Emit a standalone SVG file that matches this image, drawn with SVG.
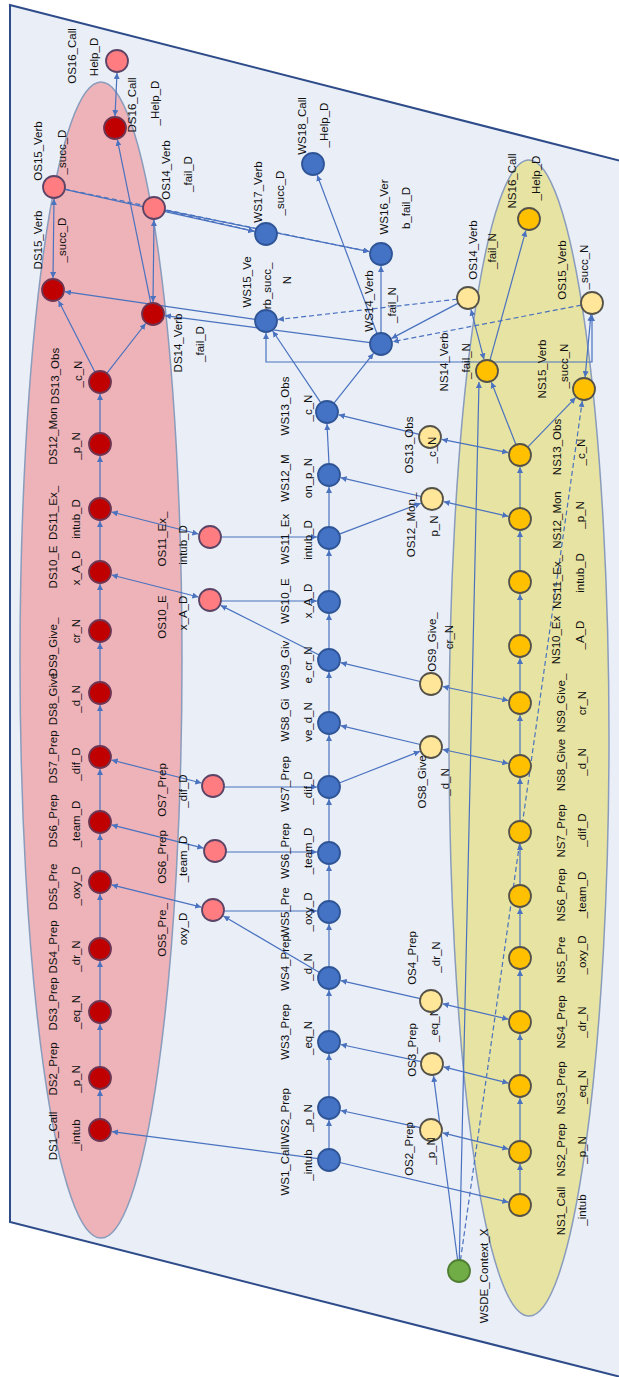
<svg xmlns="http://www.w3.org/2000/svg" width="619" height="1377" viewBox="0 0 619 1377">
<defs>
<marker id="a" viewBox="0 0 10 10" refX="10" refY="5" markerWidth="6" markerHeight="6" markerUnits="userSpaceOnUse" orient="auto-start-reverse"><path d="M0,0 L10,5 L0,10 z" fill="#4A72BF"/></marker>
<style>
.t{font-family:"Liberation Sans",Arial,sans-serif;font-size:11.5px;fill:#111;text-anchor:middle;dominant-baseline:central}
.ds{fill:#C00000;stroke:#6E3552;stroke-width:1.8}
.od{fill:#FF7C80;stroke:#5C4466;stroke-width:1.8}
.ws{fill:#4472C4;stroke:#2F5597;stroke-width:1.8}
.ns{fill:#FFC000;stroke:#55524A;stroke-width:1.8}
.on{fill:#FFE699;stroke:#55524A;stroke-width:1.8}
.gr{fill:#70AD47;stroke:#507E32;stroke-width:1.8}
.e{marker-end:url(#a)}
.b{marker-start:url(#a);marker-end:url(#a)}
.d{stroke-dasharray:5 3}
</style>
</defs>
<rect width="619" height="1377" fill="#FFFFFF"/>
<g id="background">
<polygon points="10,5 680,176 680,1392 10,1222" fill="#E9EEF7" stroke="#2E4B8A" stroke-width="2"/>
<ellipse cx="101" cy="660" rx="81" ry="578" fill="#EDB3B8" stroke="#8A9CBC" stroke-width="1.5"/>
<ellipse cx="529" cy="738" rx="80" ry="578" fill="#E7E3A2" stroke="#8A9CBC" stroke-width="1.5"/>
</g>
<g id="connectors" fill="none" stroke="#4A72BF" stroke-width="1.2">
<path class="e" d="M100,1119 V1090"/>
<path class="e" d="M100,1067 V1024"/>
<path class="e" d="M100,1001 V961"/>
<path class="e" d="M100,938 V894"/>
<path class="e" d="M100,871 V834"/>
<path class="e" d="M100,811 V769"/>
<path class="e" d="M100,746 V705"/>
<path class="e" d="M100,682 V643"/>
<path class="e" d="M100,620 V584"/>
<path class="e" d="M100,561 V521"/>
<path class="e" d="M100,498 V456"/>
<path class="e" d="M100,433 V394"/>
<path class="e" d="M106.8,373.3 L145.6,323.5"/>
<path class="e" d="M95,372.2 L58.5,300.7"/>
<path class="b" d="M54,199 L53,278"/>
<path class="b" d="M154,220 L153,302"/>
<path class="b" d="M117,73 L115,116"/>
<path class="e" d="M150.8,303.2 L117.4,139.8"/>
<path class="e" d="M255.1,319.4 L64.9,291.7"/>
<path class="e" d="M370.1,342.6 L164.9,315.6"/>
<path class="e" d="M64.7,189.4 L254.3,231.4"/>
<path class="e d" d="M64.8,189.2 L369.2,251.6"/>
<path class="e" d="M164.8,210.2 L369.2,251.6"/>
<path class="e d" d="M164.7,210.5 L254.3,231.3"/>
<path class="e" d="M377.1,333.7 L317.2,175.2"/>
<path class="e" d="M381,333 V266"/>
<path class="e" d="M333.8,403.4 L373.5,353.4"/>
<path class="e" d="M320.9,402.9 L272.7,331"/>
<path class="b" d="M266,333 V362 H592 V315"/>
<path class="e" d="M458.3,303.1 L391.6,338.4"/>
<path class="e d" d="M457.1,299.2 L277.9,319.6"/>
<path class="e d" d="M581.2,305.1 L392.8,341.7"/>
<path class="b" d="M471,309.6 L484,359.4"/>
<path class="b" d="M590.9,314.9 L585.1,377.1"/>
<path class="e" d="M516,444.8 L491.4,382.2"/>
<path class="e" d="M527.7,447.1 L575.6,397.6"/>
<path class="b" d="M508.2,452.6 L441.8,439.4"/>
<path class="e" d="M419.3,434.4 L338.7,414.8"/>
<path class="e" d="M489.9,360.4 L525.8,230.6"/>
<path class="e" d="M520,1194 V1164"/>
<path class="e" d="M520,1141 V1098"/>
<path class="e" d="M520,1075 V1034"/>
<path class="e" d="M520,1011 V970"/>
<path class="e" d="M520,947 V908"/>
<path class="e" d="M520,885 V844"/>
<path class="e" d="M520,821 V778"/>
<path class="e" d="M520,755 V715"/>
<path class="e" d="M520,692 V658"/>
<path class="e" d="M520,635 V594"/>
<path class="e" d="M520,571 V531"/>
<path class="e" d="M520,508 V467"/>
<path class="e" d="M329,1149 V1120"/>
<path class="e" d="M329,1097 V1054"/>
<path class="e" d="M329,1031 V990"/>
<path class="e" d="M329,967 V924"/>
<path class="e" d="M329,901 V865"/>
<path class="e" d="M329,842 V799"/>
<path class="e" d="M329,776 V735"/>
<path class="e" d="M329,712 V672"/>
<path class="e" d="M329,649 V614"/>
<path class="e" d="M329,591 V550"/>
<path class="e" d="M329,527 V487"/>
<path class="e" d="M329,464 L327,424"/>
<path class="e" d="M318.1,1158.6 L111.9,1131.6"/>
<path class="e" d="M339.7,1162.5 L508.3,1202.2"/>
<path class="b" d="M508.4,1149.1 L442.7,1132.9"/>
<path class="e" d="M420.2,1127.7 L340.7,1110.5"/>
<path class="b" d="M508.4,1083.1 L443.6,1066.9"/>
<path class="e" d="M421.2,1061.7 L340.7,1044.5"/>
<path class="b" d="M508.3,1019.2 L442.7,1003.8"/>
<path class="e" d="M420.3,998.6 L340.7,980.6"/>
<path class="e" d="M319.5,972.4 L223.4,916.1"/>
<path class="b" d="M201.3,907.1 L111.7,884.9"/>
<path class="e" d="M224,911 H317"/>
<path class="b" d="M203.4,848.1 L111.6,824.9"/>
<path class="e" d="M226,852 H317"/>
<path class="b" d="M201.4,783 L111.6,760"/>
<path class="e" d="M224,787 H317"/>
<path class="e" d="M339.2,783 L419.8,751.4"/>
<path class="e" d="M420.3,744.5 L340.7,725.7"/>
<path class="b" d="M508.3,763.5 L442.7,749.5"/>
<path class="b" d="M508.3,700.5 L442.7,686.5"/>
<path class="e" d="M420.3,681.5 L340.7,662.7"/>
<path class="e" d="M319.2,655 L220.7,605.4"/>
<path class="b" d="M198.4,597 L111.6,575"/>
<path class="e" d="M221,601 H317"/>
<path class="b" d="M198.4,534 L111.6,512"/>
<path class="e" d="M221,537 H317"/>
<path class="e" d="M339.3,534.1 L420.8,503.2"/>
<path class="e" d="M421.3,496.5 L340.7,477.7"/>
<path class="b" d="M508.3,516.3 L443.7,501.7"/>
<path class="e" d="M457.6,1260 L433.5,1075.9"/>
<path class="e" d="M459.3,1260 L479,382"/>
<path class="e d" d="M460.5,1260 L582.3,400.9"/>
</g>
<g id="DS1"><circle class="ds" cx="100" cy="1130" r="11"/><text class="t" transform="translate(53,1136) rotate(-90)">DS1_Call</text><text class="t" transform="translate(76,1135) rotate(-90)">_intub</text></g>
<g id="DS2"><circle class="ds" cx="100" cy="1078" r="11"/><text class="t" transform="translate(53,1069) rotate(-90)">DS2_Prep</text><text class="t" transform="translate(76,1079) rotate(-90)">_p_N</text></g>
<g id="DS3"><circle class="ds" cx="100" cy="1012" r="11"/><text class="t" transform="translate(53,1004) rotate(-90)">DS3_Prep</text><text class="t" transform="translate(76,1012) rotate(-90)">_eq_N</text></g>
<g id="DS4"><circle class="ds" cx="100" cy="949" r="11"/><text class="t" transform="translate(53,947) rotate(-90)">DS4_Prep</text><text class="t" transform="translate(76,956) rotate(-90)">_dr_N</text></g>
<g id="DS5"><circle class="ds" cx="100" cy="882" r="11"/><text class="t" transform="translate(53,887) rotate(-90)">DS5_Pre</text><text class="t" transform="translate(76,886) rotate(-90)">_oxy_D</text></g>
<g id="DS6"><circle class="ds" cx="100" cy="822" r="11"/><text class="t" transform="translate(53,821) rotate(-90)">DS6_Prep</text><text class="t" transform="translate(76,824) rotate(-90)">_team_D</text></g>
<g id="DS7"><circle class="ds" cx="100" cy="757" r="11"/><text class="t" transform="translate(53,757) rotate(-90)">DS7_Prep</text><text class="t" transform="translate(76,764) rotate(-90)">_dif_D</text></g>
<g id="DS8"><circle class="ds" cx="100" cy="693" r="11"/><text class="t" transform="translate(53,699) rotate(-90)">DS8_Give</text><text class="t" transform="translate(76,699) rotate(-90)">_d_N</text></g>
<g id="DS9"><circle class="ds" cx="100" cy="631" r="11"/><text class="t" transform="translate(53,647) rotate(-90)">DS9_Give_</text><text class="t" transform="translate(76,631) rotate(-90)">cr_N</text></g>
<g id="DS10"><circle class="ds" cx="100" cy="572" r="11"/><text class="t" transform="translate(53,567) rotate(-90)">DS10_E</text><text class="t" transform="translate(76,568) rotate(-90)">x_A_D</text></g>
<g id="DS11"><circle class="ds" cx="100" cy="509" r="11"/><text class="t" transform="translate(53,513) rotate(-90)">DS11_Ex_</text><text class="t" transform="translate(76,519) rotate(-90)">intub_D</text></g>
<g id="DS12"><circle class="ds" cx="100" cy="444" r="11"/><text class="t" transform="translate(53,436) rotate(-90)">DS12_Mon</text><text class="t" transform="translate(76,446) rotate(-90)">_p_N</text></g>
<g id="DS13"><circle class="ds" cx="100" cy="382" r="11"/><text class="t" transform="translate(55,376) rotate(-90)">DS13_Obs</text><text class="t" transform="translate(78,374) rotate(-90)">_c_N</text></g>
<g id="DS14"><circle class="ds" cx="153" cy="314" r="11"/><text class="t" transform="translate(178,343) rotate(-90)">DS14_Verb</text><text class="t" transform="translate(200,344) rotate(-90)">_fail_D</text></g>
<g id="DS15"><circle class="ds" cx="53" cy="290" r="11"/><text class="t" transform="translate(38,240) rotate(-90)">DS15_Verb</text><text class="t" transform="translate(62,240) rotate(-90)">_succ_D</text></g>
<g id="DS16"><circle class="ds" cx="115" cy="128" r="11"/><text class="t" transform="translate(132,105) rotate(-90)">DS16_Call</text><text class="t" transform="translate(155,103) rotate(-90)">_Help_D</text></g>
<g id="OS16_D"><circle class="od" cx="117" cy="61" r="11"/><text class="t" transform="translate(72,56) rotate(-90)">OS16_Call</text><text class="t" transform="translate(94,57) rotate(-90)">Help_D</text></g>
<g id="OS15_D"><circle class="od" cx="54" cy="187" r="11"/><text class="t" transform="translate(38,151) rotate(-90)">OS15_Verb</text><text class="t" transform="translate(62,152) rotate(-90)">_succ_D</text></g>
<g id="OS14_D"><circle class="od" cx="154" cy="208" r="11"/><text class="t" transform="translate(166,170) rotate(-90)">OS14_Verb</text><text class="t" transform="translate(188,174) rotate(-90)">_fail_D</text></g>
<g id="OS11_D"><circle class="od" cx="210" cy="537" r="11"/><text class="t" transform="translate(162,539) rotate(-90)">OS11_Ex_</text><text class="t" transform="translate(183,545) rotate(-90)">intub_D</text></g>
<g id="OS10_D"><circle class="od" cx="210" cy="600" r="11"/><text class="t" transform="translate(162,617) rotate(-90)">OS10_E</text><text class="t" transform="translate(183,613) rotate(-90)">x_A_D</text></g>
<g id="OS7_D"><circle class="od" cx="213" cy="786" r="11"/><text class="t" transform="translate(162,790) rotate(-90)">OS7_Prep</text><text class="t" transform="translate(183,791) rotate(-90)">_dif_D</text></g>
<g id="OS6_D"><circle class="od" cx="215" cy="851" r="11"/><text class="t" transform="translate(162,857) rotate(-90)">OS6_Prep</text><text class="t" transform="translate(183,859) rotate(-90)">_team_D</text></g>
<g id="OS5_D"><circle class="od" cx="213" cy="910" r="11"/><text class="t" transform="translate(162,930) rotate(-90)">OS5_Pre_</text><text class="t" transform="translate(183,929) rotate(-90)">oxy_D</text></g>
<g id="WS1"><circle class="ws" cx="329" cy="1160" r="11"/><text class="t" transform="translate(285,1170) rotate(-90)">WS1_Call</text><text class="t" transform="translate(308,1165) rotate(-90)">_intub</text></g>
<g id="WS2"><circle class="ws" cx="329" cy="1108" r="11"/><text class="t" transform="translate(285,1116) rotate(-90)">WS2_Prep</text><text class="t" transform="translate(308,1118) rotate(-90)">_p_N</text></g>
<g id="WS3"><circle class="ws" cx="329" cy="1042" r="11"/><text class="t" transform="translate(285,1032) rotate(-90)">WS3_Prep</text><text class="t" transform="translate(308,1038) rotate(-90)">_eq_N</text></g>
<g id="WS4"><circle class="ws" cx="329" cy="978" r="11"/><text class="t" transform="translate(285,963) rotate(-90)">WS4_Prep</text><text class="t" transform="translate(308,967) rotate(-90)">_d_N</text></g>
<g id="WS5"><circle class="ws" cx="329" cy="912" r="11"/><text class="t" transform="translate(285,912) rotate(-90)">WS5_Pre</text><text class="t" transform="translate(308,912) rotate(-90)">_oxy_D</text></g>
<g id="WS6"><circle class="ws" cx="329" cy="853" r="11"/><text class="t" transform="translate(285,851) rotate(-90)">WS6_Prep</text><text class="t" transform="translate(308,851) rotate(-90)">_team_D</text></g>
<g id="WS7"><circle class="ws" cx="329" cy="787" r="11"/><text class="t" transform="translate(285,784) rotate(-90)">WS7_Prep</text><text class="t" transform="translate(308,788) rotate(-90)">_dif_D</text></g>
<g id="WS8"><circle class="ws" cx="329" cy="723" r="11"/><text class="t" transform="translate(285,720) rotate(-90)">WS8_Gi</text><text class="t" transform="translate(308,722) rotate(-90)">ve_d_N</text></g>
<g id="WS9"><circle class="ws" cx="329" cy="660" r="11"/><text class="t" transform="translate(285,665) rotate(-90)">WS9_Giv</text><text class="t" transform="translate(308,665) rotate(-90)">e_cr_N</text></g>
<g id="WS10"><circle class="ws" cx="329" cy="602" r="11"/><text class="t" transform="translate(285,601) rotate(-90)">WS10_E</text><text class="t" transform="translate(308,601) rotate(-90)">x_A_D</text></g>
<g id="WS11"><circle class="ws" cx="329" cy="538" r="11"/><text class="t" transform="translate(285,539) rotate(-90)">WS11_Ex</text><text class="t" transform="translate(308,540) rotate(-90)">intub_D</text></g>
<g id="WS12"><circle class="ws" cx="329" cy="475" r="11"/><text class="t" transform="translate(285,478) rotate(-90)">WS12_M</text><text class="t" transform="translate(308,478) rotate(-90)">on_p_N</text></g>
<g id="WS13"><circle class="ws" cx="327" cy="412" r="11"/><text class="t" transform="translate(285,406) rotate(-90)">WS13_Obs</text><text class="t" transform="translate(308,408) rotate(-90)">_c_N</text></g>
<g id="WS14"><circle class="ws" cx="381" cy="344" r="11"/><text class="t" transform="translate(369,301) rotate(-90)">WS14_Verb</text><text class="t" transform="translate(392,305) rotate(-90)">_fail_N</text></g>
<g id="WS15"><circle class="ws" cx="266" cy="321" r="11"/><text class="t" transform="translate(247,282) rotate(-90)">WS15_Ve</text><text class="t" transform="translate(267,286) rotate(-90)">rb_succ_</text><text class="t" transform="translate(287,280) rotate(-90)">N</text></g>
<g id="WS16"><circle class="ws" cx="381" cy="254" r="11"/><text class="t" transform="translate(384,207) rotate(-90)">WS16_Ver</text><text class="t" transform="translate(406,208) rotate(-90)">b_fail_D</text></g>
<g id="WS17"><circle class="ws" cx="266" cy="234" r="11"/><text class="t" transform="translate(258,192) rotate(-90)">WS17_Verb</text><text class="t" transform="translate(280,193) rotate(-90)">_succ_D</text></g>
<g id="WS18"><circle class="ws" cx="313" cy="164" r="11"/><text class="t" transform="translate(302,126) rotate(-90)">WS18_Call</text><text class="t" transform="translate(324,125) rotate(-90)">_Help_D</text></g>
<g id="NS1"><circle class="ns" cx="520" cy="1205" r="11"/><text class="t" transform="translate(561,1211) rotate(-90)">NS1_Call</text><text class="t" transform="translate(582,1210) rotate(-90)">_intub</text></g>
<g id="NS2"><circle class="ns" cx="520" cy="1152" r="11"/><text class="t" transform="translate(561,1150) rotate(-90)">NS2_Prep</text><text class="t" transform="translate(582,1150) rotate(-90)">_p_N</text></g>
<g id="NS3"><circle class="ns" cx="520" cy="1086" r="11"/><text class="t" transform="translate(561,1088) rotate(-90)">NS3_Prep</text><text class="t" transform="translate(582,1087) rotate(-90)">_eq_N</text></g>
<g id="NS4"><circle class="ns" cx="520" cy="1022" r="11"/><text class="t" transform="translate(561,1022) rotate(-90)">NS4_Prep</text><text class="t" transform="translate(582,1022) rotate(-90)">_dr_N</text></g>
<g id="NS5"><circle class="ns" cx="520" cy="958" r="11"/><text class="t" transform="translate(561,960) rotate(-90)">NS5_Pre</text><text class="t" transform="translate(582,955) rotate(-90)">_oxy_D</text></g>
<g id="NS6"><circle class="ns" cx="520" cy="896" r="11"/><text class="t" transform="translate(561,895) rotate(-90)">NS6_Prep</text><text class="t" transform="translate(582,895) rotate(-90)">_team_D</text></g>
<g id="NS7"><circle class="ns" cx="520" cy="832" r="11"/><text class="t" transform="translate(561,831) rotate(-90)">NS7_Prep</text><text class="t" transform="translate(582,830) rotate(-90)">_dif_D</text></g>
<g id="NS8"><circle class="ns" cx="520" cy="766" r="11"/><text class="t" transform="translate(561,765) rotate(-90)">NS8_Give</text><text class="t" transform="translate(582,762) rotate(-90)">_d_N</text></g>
<g id="NS9"><circle class="ns" cx="520" cy="703" r="11"/><text class="t" transform="translate(561,703) rotate(-90)">NS9_Give_</text><text class="t" transform="translate(582,703) rotate(-90)">cr_N</text></g>
<g id="NS10"><circle class="ns" cx="520" cy="646" r="11"/><text class="t" transform="translate(556,640) rotate(-90)">NS10_Ex</text><text class="t" transform="translate(580,635) rotate(-90)">_A_D</text></g>
<g id="NS11"><circle class="ns" cx="520" cy="582" r="11"/><text class="t" transform="translate(557,582) rotate(-90)">NS11_Ex_</text><text class="t" transform="translate(580,573) rotate(-90)">intub_D</text></g>
<g id="NS12"><circle class="ns" cx="520" cy="519" r="11"/><text class="t" transform="translate(557,520) rotate(-90)">NS12_Mon</text><text class="t" transform="translate(580,515) rotate(-90)">_p_N</text></g>
<g id="NS13"><circle class="ns" cx="520" cy="455" r="11"/><text class="t" transform="translate(557,447) rotate(-90)">NS13_Obs</text><text class="t" transform="translate(581,452) rotate(-90)">_c_N</text></g>
<g id="NS14"><circle class="ns" cx="487" cy="371" r="11"/><text class="t" transform="translate(444,362) rotate(-90)">NS14_Verb</text><text class="t" transform="translate(466,361) rotate(-90)">_fail_N</text></g>
<g id="NS15"><circle class="ns" cx="584" cy="389" r="11"/><text class="t" transform="translate(542,369) rotate(-90)">NS15_Verb</text><text class="t" transform="translate(564,366) rotate(-90)">_succ_N</text></g>
<g id="NS16"><circle class="ns" cx="529" cy="219" r="11"/><text class="t" transform="translate(512,181) rotate(-90)">NS16_Call</text><text class="t" transform="translate(536,178) rotate(-90)">_Help_D</text></g>
<g id="OS2_N"><circle class="on" cx="431" cy="1130" r="11"/><text class="t" transform="translate(409,1149) rotate(-90)">OS2_Prep</text><text class="t" transform="translate(431,1151) rotate(-90)">_p_N</text></g>
<g id="OS3_N"><circle class="on" cx="432" cy="1064" r="11"/><text class="t" transform="translate(412,1050) rotate(-90)">OS3_Prep</text><text class="t" transform="translate(434,1025) rotate(-90)">_eq_N</text></g>
<g id="OS4_N"><circle class="on" cx="431" cy="1001" r="11"/><text class="t" transform="translate(412,958) rotate(-90)">OS4_Prep</text><text class="t" transform="translate(436,957) rotate(-90)">_dr_N</text></g>
<g id="OS8_N"><circle class="on" cx="431" cy="747" r="11"/><text class="t" transform="translate(422,782) rotate(-90)">OS8_Give</text><text class="t" transform="translate(445,782) rotate(-90)">_d_N</text></g>
<g id="OS9_N"><circle class="on" cx="431" cy="684" r="11"/><text class="t" transform="translate(432,642) rotate(-90)">OS9_Give_</text><text class="t" transform="translate(449,637) rotate(-90)">cr_N</text></g>
<g id="OS12_N"><circle class="on" cx="432" cy="499" r="11"/><text class="t" transform="translate(411,525) rotate(-90)">OS12_Mon_</text><text class="t" transform="translate(434,526) rotate(-90)">p_N</text></g>
<g id="OS13_N"><circle class="on" cx="430" cy="437" r="11"/><text class="t" transform="translate(409,445) rotate(-90)">OS13_Obs</text><text class="t" transform="translate(432,450) rotate(-90)">_c_N</text></g>
<g id="OS14_N"><circle class="on" cx="468" cy="298" r="11"/><text class="t" transform="translate(473,250) rotate(-90)">OS14_Verb</text><text class="t" transform="translate(492,251) rotate(-90)">_fail_N</text></g>
<g id="OS15_N"><circle class="on" cx="592" cy="303" r="11"/><text class="t" transform="translate(562,270) rotate(-90)">OS15_Verb</text><text class="t" transform="translate(584,267) rotate(-90)">_succ_N</text></g>
<g id="WSDE_Context_X"><circle class="gr" cx="459" cy="1271" r="11"/><text class="t" transform="translate(484,1276) rotate(-90)">WSDE_Context_X</text></g>
</svg>
